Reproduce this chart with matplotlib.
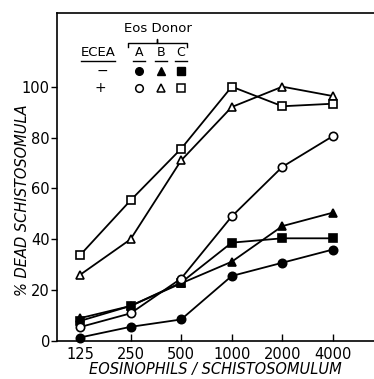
import matplotlib.pyplot as plt
import numpy as np

# eosinophils per schistosomulum (plotted at equal spacing)
ratios = ['125', '250', '500', '1000', '2000', '4000']

# % dead schistosomula, donors A/B/C without (-) and with (+) ECEA
a_minus = [1.4, 5.6, 8.5, 25.6, 30.8, 36.0]
b_minus = [9.0, 13.8, 22.7, 31.2, 45.2, 50.5]
c_minus = [7.9, 13.8, 23.0, 38.7, 40.4, 40.4]
a_plus = [5.5, 10.9, 24.6, 49.0, 68.5, 80.6]
b_plus = [26.0, 40.0, 71.0, 92.0, 100.0, 96.3]
c_plus = [33.7, 55.3, 75.6, 100.0, 92.3, 93.3]

yticks = [0, 20, 40, 60, 80, 100]

plt.rcParams['font.family'] = ['DejaVu Sans']

fig = plt.figure(figsize=(3.74, 3.79), dpi=100)
ax = fig.add_axes([0.152, 0.100, 0.848, 0.866])

x = np.arange(len(ratios))
ms = 6.0
lw = 1.3
series = [
    (a_minus, 'o', 'k'), (b_minus, '^', 'k'), (c_minus, 's', 'k'),
    (a_plus, 'o', 'white'), (b_plus, '^', 'white'), (c_plus, 's', 'white'),
]
for vals, m, fc in series:
    ax.plot(x, vals, color='k', lw=lw, marker=m, ms=ms, mfc=fc, mec='k', mew=1.2,
            clip_on=False, zorder=3)

ax.set_xlim(-0.455, 5.81)
ax.set_ylim(0, 129)
ax.set_xticks(x)
ax.set_xticklabels(ratios)
ax.set_yticks(yticks)
ax.spines['right'].set_visible(False)
for s in ax.spines.values():
    s.set_linewidth(1.2)
ax.tick_params(axis='x', direction='in', length=5, width=1, labelsize=10.5, pad=4)
ax.tick_params(axis='y', direction='out', length=4, width=1, labelsize=10.5, pad=1)
ax.set_xlabel('EOSINOPHILS / SCHISTOSOMULUM', fontsize=10.5, style='italic', labelpad=0)
ax.set_ylabel('% DEAD SCHISTOSOMULA', fontsize=10.5, style='italic', labelpad=3)
ax.yaxis.set_label_coords(-0.085, 0.43)

# hand-drawn style key
tr = ax.transAxes
ax.text(0.319, 0.951, 'Eos Donor', transform=tr, ha='center', va='center', fontsize=9.5)
ax.plot([0.224, 0.224, 0.317, 0.317, 0.317, 0.410, 0.410],
        [0.897, 0.909, 0.909, 0.919, 0.909, 0.909, 0.897],
        transform=tr, color='k', lw=1.0, clip_on=False)
ax.text(0.129, 0.878, 'ECEA', transform=tr, ha='center', va='center', fontsize=9.5)
ax.plot([0.075, 0.183], [0.852, 0.852], transform=tr, color='k', lw=1.0)
cols = [0.259, 0.328, 0.391]
for cx, lab in zip(cols, ['A', 'B', 'C']):
    ax.text(cx, 0.878, lab, transform=tr, ha='center', va='center', fontsize=9)
    ax.plot([cx - 0.018, cx + 0.018], [0.852, 0.852], transform=tr, color='k', lw=1.0)
ax.text(0.142, 0.823, '\u2212', transform=tr, ha='center', va='center', fontsize=10)
ax.text(0.136, 0.771, '+', transform=tr, ha='center', va='center', fontsize=10)
for cx, m in zip(cols, ['o', '^', 's']):
    ax.plot([cx], [0.823], m, transform=tr, ms=5.5, mfc='k', mec='k')
    ax.plot([cx], [0.771], m, transform=tr, ms=5.5, mfc='white', mec='k', mew=1.1)

fig.savefig('out.png', dpi=100)
